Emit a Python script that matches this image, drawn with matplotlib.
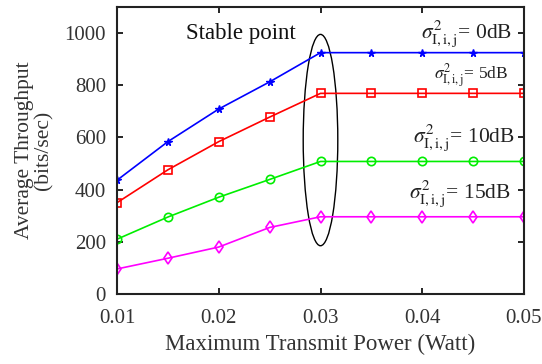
import matplotlib
matplotlib.use("Agg")
import matplotlib.pyplot as plt
from matplotlib.patches import Ellipse

plt.rcParams["font.family"] = "Liberation Serif"
plt.rcParams["mathtext.fontset"] = "stix"

power = [0.01, 0.015, 0.02, 0.025, 0.03, 0.035, 0.04, 0.045, 0.05]
thr_0db = [436, 584, 709, 813, 925, 925, 925, 925, 925]
thr_5db = [350, 476, 584, 678, 769, 769, 769, 769, 769]
thr_10db = [210, 295, 371, 439, 508, 508, 508, 508, 508]
thr_15db = [96, 137, 180, 255, 296, 296, 296, 296, 296]

fig = plt.figure(figsize=(5.42, 3.64), dpi=100)
ax = fig.add_axes([117 / 542, 1 - 294 / 364, 407 / 542, 287 / 364])

ax.plot(power, thr_0db, color="blue", marker="*", ms=5.5, lw=1.2)
ax.plot(power, thr_5db, color="red", marker="s", ms=5.5, mfc="none", mew=1.2, lw=1.2)
ax.plot(power, thr_10db, color="#00ee00", marker="o", ms=6, mfc="none", mew=1.2, lw=1.2)
ax.plot(power, thr_15db, color="magenta", marker="d", ms=6.5, mfc="none", mew=1.2, lw=1.2)

# ellipse around the saturation point
ax.add_patch(Ellipse((0.03, 590), 0.0034, 810, fill=False, color="black", lw=1.0))
ax.text(0.0222, 1000, "Stable point", fontsize=16.5, ha="center", va="center", color="#111111")

lab = r"$\sigma^2_{\mathrm{I,i,j}}$"
ax.text(0.0488, 983, lab + "= 0dB", fontsize=15.5, ha="right", va="baseline", color="#222222")
ax.text(0.0484, 823, lab + "= 5dB", fontsize=12.5, ha="right", va="baseline", color="#222222")
ax.text(0.0491, 582, lab + "= 10dB", fontsize=15.5, ha="right", va="baseline", color="#222222")
ax.text(0.0487, 370, lab + "= 15dB", fontsize=15.5, ha="right", va="baseline", color="#222222")

ax.set_xlim(0.01, 0.05)
ax.set_ylim(0, 1100)
ax.set_xticks([0.01, 0.02, 0.03, 0.04, 0.05])
ax.set_xticklabels(["0.01", "0.02", "0.03", "0.04", "0.05"])
ax.set_yticks([0, 200, 400, 600, 800, 1000])
ax.tick_params(direction="in", top=True, right=True, labelsize=15, length=4, width=1.2,
               labelcolor="#333333")
ax.tick_params(axis="x", pad=11)
ax.tick_params(axis="y", pad=8)
for s in ax.spines.values():
    s.set_linewidth(1.5)
    s.set_color("#222222")

ax.set_xlabel("Maximum Transmit Power (Watt)", fontsize=16.5, color="#333333", labelpad=4)
ax.set_ylabel("Average Throughput\n(bits/sec)", fontsize=15.5, color="#333333", linespacing=1.0,
              labelpad=8)

fig.savefig("out.png", dpi=100)
